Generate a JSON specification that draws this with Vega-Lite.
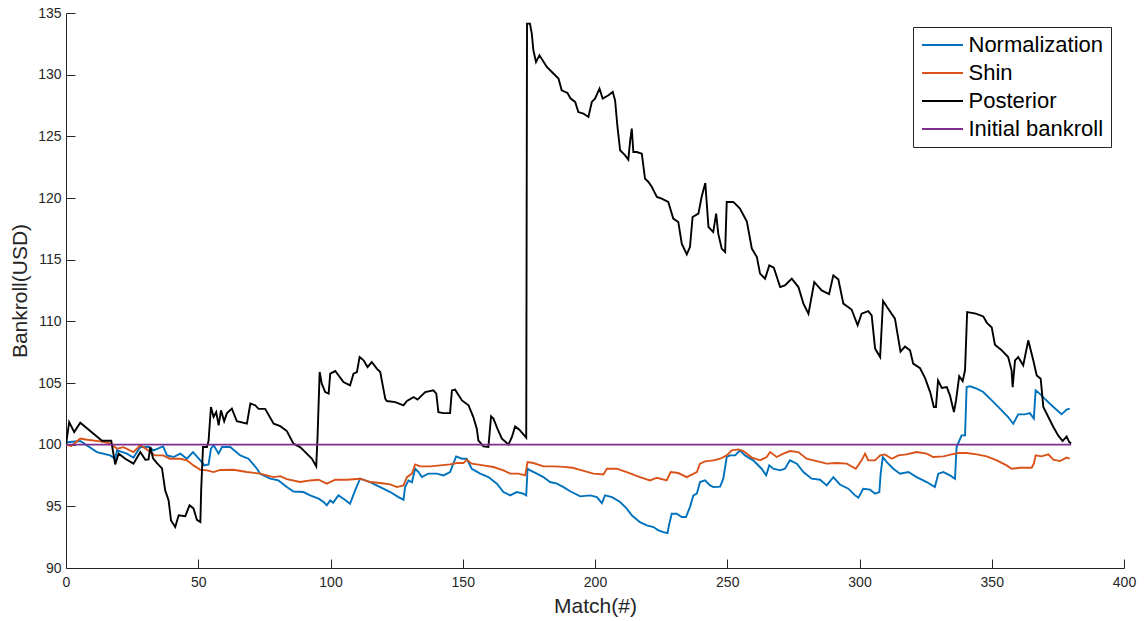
{
  "$schema": "https://vega.github.io/schema/vega-lite/v6.json",
  "autosize": "none",
  "width": 1058,
  "height": 555,
  "padding": {"left": 66, "top": 13, "right": 24, "bottom": 53},
  "background": "white",
  "datasets": {
    "bankroll": [
      {"series": "Normalization", "match": 0, "bankroll": 100.0},
      {"series": "Normalization", "match": 0.4, "bankroll": 100.2},
      {"series": "Normalization", "match": 5.4, "bankroll": 100.3},
      {"series": "Normalization", "match": 11.7, "bankroll": 99.4},
      {"series": "Normalization", "match": 16.7, "bankroll": 99.13},
      {"series": "Normalization", "match": 18.6, "bankroll": 98.86},
      {"series": "Normalization", "match": 19.3, "bankroll": 99.54},
      {"series": "Normalization", "match": 23.0, "bankroll": 99.27},
      {"series": "Normalization", "match": 25.5, "bankroll": 98.95},
      {"series": "Normalization", "match": 28.1, "bankroll": 99.81},
      {"series": "Normalization", "match": 31.2, "bankroll": 99.81},
      {"series": "Normalization", "match": 33.1, "bankroll": 99.54},
      {"series": "Normalization", "match": 36.7, "bankroll": 99.86},
      {"series": "Normalization", "match": 38.2, "bankroll": 99.13},
      {"series": "Normalization", "match": 40.7, "bankroll": 99.0},
      {"series": "Normalization", "match": 43.2, "bankroll": 99.27},
      {"series": "Normalization", "match": 45.7, "bankroll": 98.86},
      {"series": "Normalization", "match": 48.0, "bankroll": 99.4},
      {"series": "Normalization", "match": 50.8, "bankroll": 98.73},
      {"series": "Normalization", "match": 52.3, "bankroll": 98.32},
      {"series": "Normalization", "match": 53.9, "bankroll": 98.4},
      {"series": "Normalization", "match": 54.8, "bankroll": 99.68},
      {"series": "Normalization", "match": 55.8, "bankroll": 99.95},
      {"series": "Normalization", "match": 57.7, "bankroll": 99.27},
      {"series": "Normalization", "match": 59.0, "bankroll": 99.81},
      {"series": "Normalization", "match": 62.1, "bankroll": 99.81},
      {"series": "Normalization", "match": 65.9, "bankroll": 99.13},
      {"series": "Normalization", "match": 69.0, "bankroll": 98.86},
      {"series": "Normalization", "match": 72.2, "bankroll": 98.05},
      {"series": "Normalization", "match": 73.4, "bankroll": 97.65},
      {"series": "Normalization", "match": 77.2, "bankroll": 97.24},
      {"series": "Normalization", "match": 80.3, "bankroll": 97.1},
      {"series": "Normalization", "match": 83.5, "bankroll": 96.56},
      {"series": "Normalization", "match": 86.0, "bankroll": 96.2},
      {"series": "Normalization", "match": 89.8, "bankroll": 96.16},
      {"series": "Normalization", "match": 92.3, "bankroll": 95.89},
      {"series": "Normalization", "match": 95.5, "bankroll": 95.62},
      {"series": "Normalization", "match": 97.4, "bankroll": 95.35},
      {"series": "Normalization", "match": 98.6, "bankroll": 95.08},
      {"series": "Normalization", "match": 99.9, "bankroll": 95.48},
      {"series": "Normalization", "match": 101.0, "bankroll": 95.3},
      {"series": "Normalization", "match": 103.0, "bankroll": 95.89},
      {"series": "Normalization", "match": 104.9, "bankroll": 95.62},
      {"series": "Normalization", "match": 107.4, "bankroll": 95.21},
      {"series": "Normalization", "match": 109.3, "bankroll": 96.29},
      {"series": "Normalization", "match": 111.2, "bankroll": 97.24},
      {"series": "Normalization", "match": 113.1, "bankroll": 97.1},
      {"series": "Normalization", "match": 115.0, "bankroll": 96.97},
      {"series": "Normalization", "match": 118.8, "bankroll": 96.56},
      {"series": "Normalization", "match": 122.6, "bankroll": 96.16},
      {"series": "Normalization", "match": 125.7, "bankroll": 95.75},
      {"series": "Normalization", "match": 127.6, "bankroll": 95.54},
      {"series": "Normalization", "match": 128.2, "bankroll": 96.56},
      {"series": "Normalization", "match": 129.5, "bankroll": 97.1},
      {"series": "Normalization", "match": 130.8, "bankroll": 96.95},
      {"series": "Normalization", "match": 132.0, "bankroll": 98.05},
      {"series": "Normalization", "match": 133.3, "bankroll": 97.78},
      {"series": "Normalization", "match": 134.5, "bankroll": 97.37},
      {"series": "Normalization", "match": 137.0, "bankroll": 97.65},
      {"series": "Normalization", "match": 140.2, "bankroll": 97.65},
      {"series": "Normalization", "match": 142.7, "bankroll": 97.51},
      {"series": "Normalization", "match": 145.2, "bankroll": 97.78},
      {"series": "Normalization", "match": 147.5, "bankroll": 99.05},
      {"series": "Normalization", "match": 149.7, "bankroll": 98.86},
      {"series": "Normalization", "match": 151.5, "bankroll": 98.86},
      {"series": "Normalization", "match": 153.4, "bankroll": 98.05},
      {"series": "Normalization", "match": 156.6, "bankroll": 97.65},
      {"series": "Normalization", "match": 159.7, "bankroll": 97.37},
      {"series": "Normalization", "match": 162.9, "bankroll": 96.84},
      {"series": "Normalization", "match": 165.4, "bankroll": 96.16},
      {"series": "Normalization", "match": 167.9, "bankroll": 95.89},
      {"series": "Normalization", "match": 170.4, "bankroll": 96.16},
      {"series": "Normalization", "match": 172.9, "bankroll": 96.03},
      {"series": "Normalization", "match": 174.0, "bankroll": 95.89},
      {"series": "Normalization", "match": 174.5, "bankroll": 98.05},
      {"series": "Normalization", "match": 175.5, "bankroll": 97.92},
      {"series": "Normalization", "match": 178.0, "bankroll": 97.65},
      {"series": "Normalization", "match": 180.5, "bankroll": 97.37},
      {"series": "Normalization", "match": 183.0, "bankroll": 96.97},
      {"series": "Normalization", "match": 185.6, "bankroll": 96.84},
      {"series": "Normalization", "match": 188.1, "bankroll": 96.56},
      {"series": "Normalization", "match": 190.6, "bankroll": 96.22},
      {"series": "Normalization", "match": 194.4, "bankroll": 95.81},
      {"series": "Normalization", "match": 198.2, "bankroll": 95.89},
      {"series": "Normalization", "match": 200.7, "bankroll": 95.75},
      {"series": "Normalization", "match": 202.6, "bankroll": 95.26},
      {"series": "Normalization", "match": 203.8, "bankroll": 95.89},
      {"series": "Normalization", "match": 206.4, "bankroll": 95.75},
      {"series": "Normalization", "match": 209.5, "bankroll": 95.35},
      {"series": "Normalization", "match": 212.0, "bankroll": 94.81},
      {"series": "Normalization", "match": 213.9, "bankroll": 94.27},
      {"series": "Normalization", "match": 217.0, "bankroll": 93.72},
      {"series": "Normalization", "match": 219.6, "bankroll": 93.46},
      {"series": "Normalization", "match": 222.1, "bankroll": 93.32},
      {"series": "Normalization", "match": 224.0, "bankroll": 93.05},
      {"series": "Normalization", "match": 225.8, "bankroll": 92.91},
      {"series": "Normalization", "match": 227.4, "bankroll": 92.83},
      {"series": "Normalization", "match": 228.1, "bankroll": 93.59},
      {"series": "Normalization", "match": 229.0, "bankroll": 94.4},
      {"series": "Normalization", "match": 230.9, "bankroll": 94.4},
      {"series": "Normalization", "match": 232.8, "bankroll": 94.13},
      {"series": "Normalization", "match": 234.4, "bankroll": 94.13},
      {"series": "Normalization", "match": 235.9, "bankroll": 94.94},
      {"series": "Normalization", "match": 237.2, "bankroll": 95.89},
      {"series": "Normalization", "match": 238.5, "bankroll": 96.03},
      {"series": "Normalization", "match": 239.7, "bankroll": 96.97},
      {"series": "Normalization", "match": 241.6, "bankroll": 97.1},
      {"series": "Normalization", "match": 243.5, "bankroll": 96.7},
      {"series": "Normalization", "match": 244.8, "bankroll": 96.56},
      {"series": "Normalization", "match": 247.3, "bankroll": 96.6},
      {"series": "Normalization", "match": 248.5, "bankroll": 97.24},
      {"series": "Normalization", "match": 249.8, "bankroll": 99.0},
      {"series": "Normalization", "match": 251.1, "bankroll": 99.13},
      {"series": "Normalization", "match": 253.0, "bankroll": 99.13},
      {"series": "Normalization", "match": 254.8, "bankroll": 99.54},
      {"series": "Normalization", "match": 256.7, "bankroll": 99.13},
      {"series": "Normalization", "match": 259.8, "bankroll": 98.73},
      {"series": "Normalization", "match": 263.0, "bankroll": 98.05},
      {"series": "Normalization", "match": 264.7, "bankroll": 97.51},
      {"series": "Normalization", "match": 265.9, "bankroll": 98.32},
      {"series": "Normalization", "match": 267.4, "bankroll": 98.05},
      {"series": "Normalization", "match": 270.0, "bankroll": 97.92},
      {"series": "Normalization", "match": 271.8, "bankroll": 98.05},
      {"series": "Normalization", "match": 273.7, "bankroll": 98.73},
      {"series": "Normalization", "match": 276.3, "bankroll": 98.46},
      {"series": "Normalization", "match": 278.8, "bankroll": 97.78},
      {"series": "Normalization", "match": 281.9, "bankroll": 97.24},
      {"series": "Normalization", "match": 285.1, "bankroll": 97.16},
      {"series": "Normalization", "match": 287.6, "bankroll": 96.7},
      {"series": "Normalization", "match": 290.1, "bankroll": 97.37},
      {"series": "Normalization", "match": 292.6, "bankroll": 96.77},
      {"series": "Normalization", "match": 295.8, "bankroll": 96.43},
      {"series": "Normalization", "match": 298.3, "bankroll": 95.89},
      {"series": "Normalization", "match": 299.6, "bankroll": 95.7},
      {"series": "Normalization", "match": 301.4, "bankroll": 96.43},
      {"series": "Normalization", "match": 304.0, "bankroll": 96.35},
      {"series": "Normalization", "match": 305.9, "bankroll": 96.03},
      {"series": "Normalization", "match": 307.5, "bankroll": 96.16},
      {"series": "Normalization", "match": 308.0, "bankroll": 97.65},
      {"series": "Normalization", "match": 308.8, "bankroll": 99.0},
      {"series": "Normalization", "match": 310.3, "bankroll": 98.59},
      {"series": "Normalization", "match": 312.8, "bankroll": 98.05},
      {"series": "Normalization", "match": 315.3, "bankroll": 97.65},
      {"series": "Normalization", "match": 318.5, "bankroll": 97.78},
      {"series": "Normalization", "match": 321.6, "bankroll": 97.37},
      {"series": "Normalization", "match": 325.4, "bankroll": 96.97},
      {"series": "Normalization", "match": 328.5, "bankroll": 96.56},
      {"series": "Normalization", "match": 329.8, "bankroll": 97.65},
      {"series": "Normalization", "match": 331.7, "bankroll": 97.78},
      {"series": "Normalization", "match": 334.2, "bankroll": 97.51},
      {"series": "Normalization", "match": 336.1, "bankroll": 97.24},
      {"series": "Normalization", "match": 336.7, "bankroll": 99.81},
      {"series": "Normalization", "match": 338.6, "bankroll": 100.75},
      {"series": "Normalization", "match": 339.9, "bankroll": 100.75},
      {"series": "Normalization", "match": 340.5, "bankroll": 104.67},
      {"series": "Normalization", "match": 341.8, "bankroll": 104.73},
      {"series": "Normalization", "match": 344.3, "bankroll": 104.54},
      {"series": "Normalization", "match": 346.8, "bankroll": 104.27},
      {"series": "Normalization", "match": 350.0, "bankroll": 103.59},
      {"series": "Normalization", "match": 353.1, "bankroll": 102.92},
      {"series": "Normalization", "match": 356.2, "bankroll": 102.24},
      {"series": "Normalization", "match": 358.1, "bankroll": 101.7},
      {"series": "Normalization", "match": 360.0, "bankroll": 102.46},
      {"series": "Normalization", "match": 362.5, "bankroll": 102.46},
      {"series": "Normalization", "match": 364.4, "bankroll": 102.56},
      {"series": "Normalization", "match": 365.9, "bankroll": 102.11},
      {"series": "Normalization", "match": 366.6, "bankroll": 104.4},
      {"series": "Normalization", "match": 368.1, "bankroll": 104.14},
      {"series": "Normalization", "match": 370.0, "bankroll": 103.73},
      {"series": "Normalization", "match": 373.3, "bankroll": 103.05},
      {"series": "Normalization", "match": 376.4, "bankroll": 102.46},
      {"series": "Normalization", "match": 378.3, "bankroll": 102.84},
      {"series": "Normalization", "match": 379.5, "bankroll": 102.92},

      {"series": "Shin", "match": 0, "bankroll": 100.0},
      {"series": "Shin", "match": 2.0, "bankroll": 99.9},
      {"series": "Shin", "match": 5.4, "bankroll": 100.49},
      {"series": "Shin", "match": 8.0, "bankroll": 100.4},
      {"series": "Shin", "match": 13.0, "bankroll": 100.27},
      {"series": "Shin", "match": 16.7, "bankroll": 100.1},
      {"series": "Shin", "match": 17.5, "bankroll": 99.95},
      {"series": "Shin", "match": 19.3, "bankroll": 99.68},
      {"series": "Shin", "match": 21.7, "bankroll": 99.8},
      {"series": "Shin", "match": 25.5, "bankroll": 99.4},
      {"series": "Shin", "match": 28.1, "bankroll": 99.95},
      {"series": "Shin", "match": 30.0, "bankroll": 99.7},
      {"series": "Shin", "match": 31.9, "bankroll": 99.4},
      {"series": "Shin", "match": 33.6, "bankroll": 99.13},
      {"series": "Shin", "match": 36.7, "bankroll": 99.13},
      {"series": "Shin", "match": 39.3, "bankroll": 98.86},
      {"series": "Shin", "match": 43.2, "bankroll": 98.86},
      {"series": "Shin", "match": 45.7, "bankroll": 98.73},
      {"series": "Shin", "match": 48.2, "bankroll": 98.32},
      {"series": "Shin", "match": 50.8, "bankroll": 97.97},
      {"series": "Shin", "match": 53.3, "bankroll": 97.92},
      {"series": "Shin", "match": 55.8, "bankroll": 97.78},
      {"series": "Shin", "match": 58.3, "bankroll": 97.95},
      {"series": "Shin", "match": 63.3, "bankroll": 97.97},
      {"series": "Shin", "match": 68.4, "bankroll": 97.78},
      {"series": "Shin", "match": 73.4, "bankroll": 97.65},
      {"series": "Shin", "match": 78.5, "bankroll": 97.37},
      {"series": "Shin", "match": 81.0, "bankroll": 97.45},
      {"series": "Shin", "match": 83.5, "bankroll": 97.2},
      {"series": "Shin", "match": 88.5, "bankroll": 96.97},
      {"series": "Shin", "match": 92.3, "bankroll": 97.1},
      {"series": "Shin", "match": 95.5, "bankroll": 97.16},
      {"series": "Shin", "match": 98.6, "bankroll": 96.84},
      {"series": "Shin", "match": 101.8, "bankroll": 97.16},
      {"series": "Shin", "match": 106.2, "bankroll": 97.16},
      {"series": "Shin", "match": 111.2, "bankroll": 97.24},
      {"series": "Shin", "match": 115.0, "bankroll": 96.97},
      {"series": "Shin", "match": 118.8, "bankroll": 96.89},
      {"series": "Shin", "match": 122.6, "bankroll": 96.78},
      {"series": "Shin", "match": 125.1, "bankroll": 96.56},
      {"series": "Shin", "match": 127.6, "bankroll": 96.7},
      {"series": "Shin", "match": 128.9, "bankroll": 97.37},
      {"series": "Shin", "match": 130.8, "bankroll": 97.65},
      {"series": "Shin", "match": 132.0, "bankroll": 98.4},
      {"series": "Shin", "match": 133.9, "bankroll": 98.24},
      {"series": "Shin", "match": 137.7, "bankroll": 98.24},
      {"series": "Shin", "match": 141.5, "bankroll": 98.32},
      {"series": "Shin", "match": 145.2, "bankroll": 98.4},
      {"series": "Shin", "match": 147.8, "bankroll": 98.51},
      {"series": "Shin", "match": 150.3, "bankroll": 98.51},
      {"series": "Shin", "match": 151.5, "bankroll": 98.78},
      {"series": "Shin", "match": 153.4, "bankroll": 98.46},
      {"series": "Shin", "match": 157.8, "bankroll": 98.32},
      {"series": "Shin", "match": 161.6, "bankroll": 98.19},
      {"series": "Shin", "match": 165.4, "bankroll": 97.92},
      {"series": "Shin", "match": 167.9, "bankroll": 97.65},
      {"series": "Shin", "match": 171.1, "bankroll": 97.65},
      {"series": "Shin", "match": 173.6, "bankroll": 97.51},
      {"series": "Shin", "match": 174.5, "bankroll": 98.59},
      {"series": "Shin", "match": 176.7, "bankroll": 98.51},
      {"series": "Shin", "match": 180.5, "bankroll": 98.24},
      {"series": "Shin", "match": 184.3, "bankroll": 98.24},
      {"series": "Shin", "match": 188.1, "bankroll": 98.2},
      {"series": "Shin", "match": 191.5, "bankroll": 98.13},
      {"series": "Shin", "match": 194.4, "bankroll": 97.95},
      {"series": "Shin", "match": 199.4, "bankroll": 97.65},
      {"series": "Shin", "match": 203.2, "bankroll": 97.59},
      {"series": "Shin", "match": 204.5, "bankroll": 98.05},
      {"series": "Shin", "match": 208.2, "bankroll": 98.05},
      {"series": "Shin", "match": 212.0, "bankroll": 97.78},
      {"series": "Shin", "match": 217.0, "bankroll": 97.37},
      {"series": "Shin", "match": 220.8, "bankroll": 97.1},
      {"series": "Shin", "match": 223.4, "bankroll": 97.32},
      {"series": "Shin", "match": 227.1, "bankroll": 97.1},
      {"series": "Shin", "match": 228.6, "bankroll": 97.78},
      {"series": "Shin", "match": 231.5, "bankroll": 97.7},
      {"series": "Shin", "match": 234.7, "bankroll": 97.37},
      {"series": "Shin", "match": 238.5, "bankroll": 97.78},
      {"series": "Shin", "match": 239.7, "bankroll": 98.46},
      {"series": "Shin", "match": 241.6, "bankroll": 98.65},
      {"series": "Shin", "match": 244.8, "bankroll": 98.73},
      {"series": "Shin", "match": 247.3, "bankroll": 98.86},
      {"series": "Shin", "match": 249.8, "bankroll": 99.13},
      {"series": "Shin", "match": 251.7, "bankroll": 99.54},
      {"series": "Shin", "match": 254.2, "bankroll": 99.62},
      {"series": "Shin", "match": 256.1, "bankroll": 99.48},
      {"series": "Shin", "match": 259.3, "bankroll": 98.95},
      {"series": "Shin", "match": 262.4, "bankroll": 98.73},
      {"series": "Shin", "match": 264.9, "bankroll": 99.0},
      {"series": "Shin", "match": 266.2, "bankroll": 99.4},
      {"series": "Shin", "match": 268.7, "bankroll": 99.0},
      {"series": "Shin", "match": 271.2, "bankroll": 99.27},
      {"series": "Shin", "match": 273.7, "bankroll": 99.48},
      {"series": "Shin", "match": 276.9, "bankroll": 99.4},
      {"series": "Shin", "match": 280.0, "bankroll": 98.86},
      {"series": "Shin", "match": 283.8, "bankroll": 98.67},
      {"series": "Shin", "match": 287.6, "bankroll": 98.46},
      {"series": "Shin", "match": 291.4, "bankroll": 98.51},
      {"series": "Shin", "match": 295.2, "bankroll": 98.46},
      {"series": "Shin", "match": 298.6, "bankroll": 98.05},
      {"series": "Shin", "match": 300.8, "bankroll": 98.73},
      {"series": "Shin", "match": 302.1, "bankroll": 99.27},
      {"series": "Shin", "match": 303.3, "bankroll": 98.73},
      {"series": "Shin", "match": 305.9, "bankroll": 98.73},
      {"series": "Shin", "match": 307.8, "bankroll": 99.13},
      {"series": "Shin", "match": 309.6, "bankroll": 99.21},
      {"series": "Shin", "match": 312.2, "bankroll": 98.86},
      {"series": "Shin", "match": 314.7, "bankroll": 99.13},
      {"series": "Shin", "match": 317.8, "bankroll": 99.21},
      {"series": "Shin", "match": 321.6, "bankroll": 99.4},
      {"series": "Shin", "match": 325.4, "bankroll": 99.27},
      {"series": "Shin", "match": 327.9, "bankroll": 99.0},
      {"series": "Shin", "match": 331.7, "bankroll": 99.05},
      {"series": "Shin", "match": 334.8, "bankroll": 99.21},
      {"series": "Shin", "match": 337.4, "bankroll": 99.32},
      {"series": "Shin", "match": 340.5, "bankroll": 99.32},
      {"series": "Shin", "match": 344.3, "bankroll": 99.21},
      {"series": "Shin", "match": 348.1, "bankroll": 99.05},
      {"series": "Shin", "match": 351.9, "bankroll": 98.73},
      {"series": "Shin", "match": 355.6, "bankroll": 98.32},
      {"series": "Shin", "match": 357.5, "bankroll": 98.05},
      {"series": "Shin", "match": 360.7, "bankroll": 98.13},
      {"series": "Shin", "match": 365.1, "bankroll": 98.13},
      {"series": "Shin", "match": 365.9, "bankroll": 98.46},
      {"series": "Shin", "match": 366.6, "bankroll": 99.13},
      {"series": "Shin", "match": 368.8, "bankroll": 99.05},
      {"series": "Shin", "match": 371.4, "bankroll": 99.21},
      {"series": "Shin", "match": 373.3, "bankroll": 98.78},
      {"series": "Shin", "match": 375.8, "bankroll": 98.67},
      {"series": "Shin", "match": 378.3, "bankroll": 98.95},
      {"series": "Shin", "match": 379.5, "bankroll": 98.86},

      {"series": "Posterior", "match": 0, "bankroll": 100.0},
      {"series": "Posterior", "match": 1.2, "bankroll": 101.83},
      {"series": "Posterior", "match": 3.1, "bankroll": 101.02},
      {"series": "Posterior", "match": 5.4, "bankroll": 101.78},
      {"series": "Posterior", "match": 13.6, "bankroll": 100.32},
      {"series": "Posterior", "match": 17.1, "bankroll": 100.32},
      {"series": "Posterior", "match": 18.6, "bankroll": 98.4},
      {"series": "Posterior", "match": 19.9, "bankroll": 99.27},
      {"series": "Posterior", "match": 22.4, "bankroll": 98.86},
      {"series": "Posterior", "match": 25.5, "bankroll": 98.46},
      {"series": "Posterior", "match": 28.1, "bankroll": 99.4},
      {"series": "Posterior", "match": 30.0, "bankroll": 98.78},
      {"series": "Posterior", "match": 31.2, "bankroll": 98.8},
      {"series": "Posterior", "match": 31.9, "bankroll": 99.81},
      {"series": "Posterior", "match": 32.9, "bankroll": 98.9},
      {"series": "Posterior", "match": 34.4, "bankroll": 98.5},
      {"series": "Posterior", "match": 36.3, "bankroll": 98.08},
      {"series": "Posterior", "match": 37.5, "bankroll": 96.29},
      {"series": "Posterior", "match": 38.8, "bankroll": 95.48},
      {"series": "Posterior", "match": 39.7, "bankroll": 93.86},
      {"series": "Posterior", "match": 41.3, "bankroll": 93.32},
      {"series": "Posterior", "match": 42.6, "bankroll": 94.27},
      {"series": "Posterior", "match": 45.1, "bankroll": 94.2},
      {"series": "Posterior", "match": 46.7, "bankroll": 95.08},
      {"series": "Posterior", "match": 48.2, "bankroll": 94.83},
      {"series": "Posterior", "match": 49.5, "bankroll": 93.9},
      {"series": "Posterior", "match": 50.8, "bankroll": 93.72},
      {"series": "Posterior", "match": 51.1, "bankroll": 96.3},
      {"series": "Posterior", "match": 51.8, "bankroll": 99.81},
      {"series": "Posterior", "match": 53.3, "bankroll": 99.81},
      {"series": "Posterior", "match": 53.9, "bankroll": 100.3},
      {"series": "Posterior", "match": 54.8, "bankroll": 103.05},
      {"series": "Posterior", "match": 55.8, "bankroll": 102.24},
      {"series": "Posterior", "match": 56.8, "bankroll": 102.64},
      {"series": "Posterior", "match": 57.7, "bankroll": 101.57},
      {"series": "Posterior", "match": 58.6, "bankroll": 102.78},
      {"series": "Posterior", "match": 59.8, "bankroll": 101.9},
      {"series": "Posterior", "match": 60.8, "bankroll": 102.54},
      {"series": "Posterior", "match": 62.7, "bankroll": 102.92},
      {"series": "Posterior", "match": 64.6, "bankroll": 101.9},
      {"series": "Posterior", "match": 68.4, "bankroll": 101.7},
      {"series": "Posterior", "match": 69.7, "bankroll": 103.33},
      {"series": "Posterior", "match": 71.5, "bankroll": 103.2},
      {"series": "Posterior", "match": 72.8, "bankroll": 102.9},
      {"series": "Posterior", "match": 75.3, "bankroll": 102.9},
      {"series": "Posterior", "match": 78.5, "bankroll": 101.7},
      {"series": "Posterior", "match": 81.0, "bankroll": 101.5},
      {"series": "Posterior", "match": 83.5, "bankroll": 101.1},
      {"series": "Posterior", "match": 86.0, "bankroll": 100.08},
      {"series": "Posterior", "match": 88.5, "bankroll": 99.8},
      {"series": "Posterior", "match": 89.8, "bankroll": 99.54},
      {"series": "Posterior", "match": 93.0, "bankroll": 98.86},
      {"series": "Posterior", "match": 94.6, "bankroll": 98.24},
      {"series": "Posterior", "match": 95.1, "bankroll": 100.6},
      {"series": "Posterior", "match": 95.9, "bankroll": 105.89},
      {"series": "Posterior", "match": 96.7, "bankroll": 104.95},
      {"series": "Posterior", "match": 98.0, "bankroll": 104.27},
      {"series": "Posterior", "match": 99.3, "bankroll": 104.14},
      {"series": "Posterior", "match": 99.9, "bankroll": 105.76},
      {"series": "Posterior", "match": 101.8, "bankroll": 105.97},
      {"series": "Posterior", "match": 104.9, "bankroll": 105.08},
      {"series": "Posterior", "match": 107.4, "bankroll": 104.81},
      {"series": "Posterior", "match": 108.7, "bankroll": 105.76},
      {"series": "Posterior", "match": 110.0, "bankroll": 105.89},
      {"series": "Posterior", "match": 111.0, "bankroll": 107.1},
      {"series": "Posterior", "match": 112.5, "bankroll": 106.84},
      {"series": "Posterior", "match": 114.0, "bankroll": 106.29},
      {"series": "Posterior", "match": 115.6, "bankroll": 106.7},
      {"series": "Posterior", "match": 117.5, "bankroll": 106.16},
      {"series": "Posterior", "match": 118.8, "bankroll": 105.89},
      {"series": "Posterior", "match": 120.7, "bankroll": 103.73},
      {"series": "Posterior", "match": 121.3, "bankroll": 103.54},
      {"series": "Posterior", "match": 124.5, "bankroll": 103.45},
      {"series": "Posterior", "match": 127.6, "bankroll": 103.19},
      {"series": "Posterior", "match": 128.9, "bankroll": 103.54},
      {"series": "Posterior", "match": 131.4, "bankroll": 103.86},
      {"series": "Posterior", "match": 132.9, "bankroll": 103.65},
      {"series": "Posterior", "match": 135.8, "bankroll": 104.27},
      {"series": "Posterior", "match": 138.9, "bankroll": 104.4},
      {"series": "Posterior", "match": 140.0, "bankroll": 104.14},
      {"series": "Posterior", "match": 140.8, "bankroll": 102.64},
      {"series": "Posterior", "match": 142.7, "bankroll": 102.56},
      {"series": "Posterior", "match": 145.2, "bankroll": 102.56},
      {"series": "Posterior", "match": 145.9, "bankroll": 104.4},
      {"series": "Posterior", "match": 147.1, "bankroll": 104.46},
      {"series": "Posterior", "match": 149.7, "bankroll": 103.59},
      {"series": "Posterior", "match": 152.2, "bankroll": 103.19},
      {"series": "Posterior", "match": 154.0, "bankroll": 102.24},
      {"series": "Posterior", "match": 155.3, "bankroll": 101.3},
      {"series": "Posterior", "match": 155.9, "bankroll": 100.35},
      {"series": "Posterior", "match": 157.8, "bankroll": 99.86},
      {"series": "Posterior", "match": 159.7, "bankroll": 99.81},
      {"series": "Posterior", "match": 160.7, "bankroll": 102.3},
      {"series": "Posterior", "match": 161.6, "bankroll": 102.11},
      {"series": "Posterior", "match": 163.1, "bankroll": 101.3},
      {"series": "Posterior", "match": 164.8, "bankroll": 100.49},
      {"series": "Posterior", "match": 167.3, "bankroll": 100.02},
      {"series": "Posterior", "match": 168.6, "bankroll": 100.62},
      {"series": "Posterior", "match": 169.8, "bankroll": 101.48},
      {"series": "Posterior", "match": 171.4, "bankroll": 101.22},
      {"series": "Posterior", "match": 174.0, "bankroll": 100.57},
      {"series": "Posterior", "match": 174.3, "bankroll": 134.14},
      {"series": "Posterior", "match": 175.4, "bankroll": 134.14},
      {"series": "Posterior", "match": 176.1, "bankroll": 133.33},
      {"series": "Posterior", "match": 176.7, "bankroll": 131.98},
      {"series": "Posterior", "match": 177.7, "bankroll": 131.03},
      {"series": "Posterior", "match": 179.0, "bankroll": 131.57},
      {"series": "Posterior", "match": 181.8, "bankroll": 130.62},
      {"series": "Posterior", "match": 183.7, "bankroll": 130.22},
      {"series": "Posterior", "match": 186.2, "bankroll": 129.68},
      {"series": "Posterior", "match": 187.4, "bankroll": 128.73},
      {"series": "Posterior", "match": 189.6, "bankroll": 128.52},
      {"series": "Posterior", "match": 190.8, "bankroll": 128.06},
      {"series": "Posterior", "match": 192.5, "bankroll": 127.79},
      {"series": "Posterior", "match": 193.7, "bankroll": 126.97},
      {"series": "Posterior", "match": 195.6, "bankroll": 126.85},
      {"series": "Posterior", "match": 197.5, "bankroll": 126.57},
      {"series": "Posterior", "match": 198.8, "bankroll": 127.79},
      {"series": "Posterior", "match": 200.0, "bankroll": 128.06},
      {"series": "Posterior", "match": 201.7, "bankroll": 128.87},
      {"series": "Posterior", "match": 202.9, "bankroll": 128.06},
      {"series": "Posterior", "match": 205.1, "bankroll": 128.33},
      {"series": "Posterior", "match": 206.7, "bankroll": 128.6},
      {"series": "Posterior", "match": 207.6, "bankroll": 127.92},
      {"series": "Posterior", "match": 208.5, "bankroll": 125.76},
      {"series": "Posterior", "match": 209.5, "bankroll": 123.87},
      {"series": "Posterior", "match": 211.4, "bankroll": 123.46},
      {"series": "Posterior", "match": 212.6, "bankroll": 123.11},
      {"series": "Posterior", "match": 213.3, "bankroll": 124.68},
      {"series": "Posterior", "match": 213.9, "bankroll": 125.63},
      {"series": "Posterior", "match": 214.5, "bankroll": 123.73},
      {"series": "Posterior", "match": 215.8, "bankroll": 123.73},
      {"series": "Posterior", "match": 217.7, "bankroll": 123.6},
      {"series": "Posterior", "match": 218.9, "bankroll": 121.57},
      {"series": "Posterior", "match": 220.2, "bankroll": 121.3},
      {"series": "Posterior", "match": 221.5, "bankroll": 120.89},
      {"series": "Posterior", "match": 223.4, "bankroll": 120.08},
      {"series": "Posterior", "match": 225.2, "bankroll": 119.95},
      {"series": "Posterior", "match": 227.7, "bankroll": 119.68},
      {"series": "Posterior", "match": 229.6, "bankroll": 118.33},
      {"series": "Posterior", "match": 231.5, "bankroll": 118.05},
      {"series": "Posterior", "match": 232.8, "bankroll": 116.3},
      {"series": "Posterior", "match": 234.7, "bankroll": 115.43},
      {"series": "Posterior", "match": 235.9, "bankroll": 116.03},
      {"series": "Posterior", "match": 236.9, "bankroll": 118.46},
      {"series": "Posterior", "match": 239.1, "bankroll": 118.73},
      {"series": "Posterior", "match": 240.3, "bankroll": 120.08},
      {"series": "Posterior", "match": 241.7, "bankroll": 121.22},
      {"series": "Posterior", "match": 242.9, "bankroll": 117.65},
      {"series": "Posterior", "match": 244.7, "bankroll": 117.24},
      {"series": "Posterior", "match": 245.8, "bankroll": 118.73},
      {"series": "Posterior", "match": 246.6, "bankroll": 117.11},
      {"series": "Posterior", "match": 247.9, "bankroll": 115.9},
      {"series": "Posterior", "match": 249.2, "bankroll": 115.62},
      {"series": "Posterior", "match": 249.8, "bankroll": 119.68},
      {"series": "Posterior", "match": 252.3, "bankroll": 119.68},
      {"series": "Posterior", "match": 254.8, "bankroll": 119.14},
      {"series": "Posterior", "match": 257.4, "bankroll": 118.1},
      {"series": "Posterior", "match": 259.3, "bankroll": 115.9},
      {"series": "Posterior", "match": 261.2, "bankroll": 115.21},
      {"series": "Posterior", "match": 262.4, "bankroll": 113.87},
      {"series": "Posterior", "match": 264.3, "bankroll": 113.46},
      {"series": "Posterior", "match": 265.9, "bankroll": 114.54},
      {"series": "Posterior", "match": 267.6, "bankroll": 114.35},
      {"series": "Posterior", "match": 270.0, "bankroll": 112.78},
      {"series": "Posterior", "match": 271.8, "bankroll": 112.92},
      {"series": "Posterior", "match": 273.1, "bankroll": 113.19},
      {"series": "Posterior", "match": 274.4, "bankroll": 113.46},
      {"series": "Posterior", "match": 276.9, "bankroll": 112.78},
      {"series": "Posterior", "match": 278.8, "bankroll": 111.44},
      {"series": "Posterior", "match": 280.7, "bankroll": 110.62},
      {"series": "Posterior", "match": 282.9, "bankroll": 113.19},
      {"series": "Posterior", "match": 285.7, "bankroll": 112.51},
      {"series": "Posterior", "match": 288.5, "bankroll": 112.2},
      {"series": "Posterior", "match": 290.1, "bankroll": 113.73},
      {"series": "Posterior", "match": 292.0, "bankroll": 113.4},
      {"series": "Posterior", "match": 293.9, "bankroll": 111.44},
      {"series": "Posterior", "match": 297.0, "bankroll": 110.96},
      {"series": "Posterior", "match": 299.3, "bankroll": 109.68},
      {"series": "Posterior", "match": 300.8, "bankroll": 110.62},
      {"series": "Posterior", "match": 303.3, "bankroll": 110.82},
      {"series": "Posterior", "match": 304.6, "bankroll": 110.49},
      {"series": "Posterior", "match": 305.9, "bankroll": 107.79},
      {"series": "Posterior", "match": 307.8, "bankroll": 107.1},
      {"series": "Posterior", "match": 308.9, "bankroll": 111.65},
      {"series": "Posterior", "match": 310.6, "bankroll": 111.1},
      {"series": "Posterior", "match": 313.4, "bankroll": 110.22},
      {"series": "Posterior", "match": 315.5, "bankroll": 107.55},
      {"series": "Posterior", "match": 317.2, "bankroll": 107.95},
      {"series": "Posterior", "match": 319.1, "bankroll": 107.65},
      {"series": "Posterior", "match": 320.3, "bankroll": 106.57},
      {"series": "Posterior", "match": 322.9, "bankroll": 106.2},
      {"series": "Posterior", "match": 324.8, "bankroll": 105.4},
      {"series": "Posterior", "match": 326.8, "bankroll": 104.2},
      {"series": "Posterior", "match": 328.1, "bankroll": 103.05},
      {"series": "Posterior", "match": 328.9, "bankroll": 103.05},
      {"series": "Posterior", "match": 329.7, "bankroll": 105.21},
      {"series": "Posterior", "match": 331.1, "bankroll": 104.6},
      {"series": "Posterior", "match": 333.0, "bankroll": 104.67},
      {"series": "Posterior", "match": 334.2, "bankroll": 104.0},
      {"series": "Posterior", "match": 335.7, "bankroll": 102.64},
      {"series": "Posterior", "match": 336.5, "bankroll": 103.59},
      {"series": "Posterior", "match": 337.7, "bankroll": 105.55},
      {"series": "Posterior", "match": 339.0, "bankroll": 105.15},
      {"series": "Posterior", "match": 339.9, "bankroll": 106.03},
      {"series": "Posterior", "match": 340.7, "bankroll": 110.75},
      {"series": "Posterior", "match": 344.0, "bankroll": 110.62},
      {"series": "Posterior", "match": 346.8, "bankroll": 110.4},
      {"series": "Posterior", "match": 348.1, "bankroll": 109.9},
      {"series": "Posterior", "match": 350.0, "bankroll": 109.5},
      {"series": "Posterior", "match": 351.2, "bankroll": 108.1},
      {"series": "Posterior", "match": 353.5, "bankroll": 107.7},
      {"series": "Posterior", "match": 356.2, "bankroll": 107.1},
      {"series": "Posterior", "match": 357.5, "bankroll": 106.03},
      {"series": "Posterior", "match": 357.9, "bankroll": 104.67},
      {"series": "Posterior", "match": 358.8, "bankroll": 106.84},
      {"series": "Posterior", "match": 360.0, "bankroll": 107.1},
      {"series": "Posterior", "match": 361.9, "bankroll": 106.43},
      {"series": "Posterior", "match": 363.8, "bankroll": 108.46},
      {"series": "Posterior", "match": 365.7, "bankroll": 106.84},
      {"series": "Posterior", "match": 367.0, "bankroll": 105.62},
      {"series": "Posterior", "match": 368.5, "bankroll": 105.35},
      {"series": "Posterior", "match": 369.5, "bankroll": 103.05},
      {"series": "Posterior", "match": 371.4, "bankroll": 102.24},
      {"series": "Posterior", "match": 373.3, "bankroll": 101.43},
      {"series": "Posterior", "match": 375.1, "bankroll": 100.75},
      {"series": "Posterior", "match": 376.8, "bankroll": 100.29},
      {"series": "Posterior", "match": 378.3, "bankroll": 100.67},
      {"series": "Posterior", "match": 379.3, "bankroll": 100.21},
      {"series": "Posterior", "match": 380.0, "bankroll": 100.1},

      {"series": "Initial bankroll", "match": 0, "bankroll": 100},
      {"series": "Initial bankroll", "match": 380, "bankroll": 100}
    ]
  },
  "data": {"name": "bankroll"},
  "mark": {"type": "line", "strokeJoin": "miter", "clip": true},
  "encoding": {
    "x": {
      "field": "match",
      "type": "quantitative",
      "scale": {"domain": [0, 400], "nice": false, "zero": false},
      "axis": {
        "title": "Match(#)",
        "values": [0, 50, 100, 150, 200, 250, 300, 350, 400],
        "labelFlush": false,
        "labelPadding": 16,
        "titleX": 529,
        "titleY": 38,
        "titleAlign": "center",
        "titleBaseline": "middle"
      }
    },
    "y": {
      "field": "bankroll",
      "type": "quantitative",
      "scale": {"domain": [90, 135], "nice": false, "zero": false},
      "axis": {
        "title": "Bankroll(USD)",
        "values": [90, 95, 100, 105, 110, 115, 120, 125, 130, 135],
        "labelFlush": false,
        "labelPadding": 14,
        "titleX": -46,
        "titleY": 277.5,
        "titleAngle": -90,
        "titleAlign": "center",
        "titleBaseline": "middle"
      }
    },
    "color": {
      "field": "series",
      "type": "nominal",
      "sort": null,
      "scale": {
        "domain": ["Normalization", "Shin", "Posterior", "Initial bankroll"],
        "range": ["#0072BD", "#D95319", "#000000", "#7E2F8E"]
      },
      "legend": {"title": null}
    },
    "strokeWidth": {
      "field": "series",
      "type": "nominal",
      "sort": null,
      "scale": {
        "domain": ["Normalization", "Shin", "Posterior", "Initial bankroll"],
        "range": [1.9, 1.9, 2.2, 1.0]
      },
      "legend": {"title": null}
    }
  },
  "config": {
    "view": {"stroke": null},
    "font": "Liberation Sans",
    "axis": {
      "grid": false,
      "domainColor": "#262626",
      "domainWidth": 1,
      "tickColor": "#262626",
      "tickWidth": 1,
      "tickSize": -9,
      "labelColor": "#262626",
      "labelFont": "Liberation Sans",
      "labelFontSize": 14,
      "titleColor": "#262626",
      "titleFont": "Liberation Sans",
      "titleFontSize": 21,
      "titleFontWeight": "normal"
    },
    "legend": {
      "orient": "none",
      "legendX": 847,
      "legendY": 14,
      "symbolType": "M-2.05,0H2.05",
      "symbolSize": 400,
      "symbolOffset": 11.5,
      "labelFont": "Liberation Sans",
      "labelFontSize": 22,
      "labelColor": "#000000",
      "labelOffset": 15,
      "labelLimit": 300,
      "rowPadding": 6,
      "padding": 7,
      "strokeColor": "#262626",
      "fillColor": "#ffffff"
    }
  }
}
